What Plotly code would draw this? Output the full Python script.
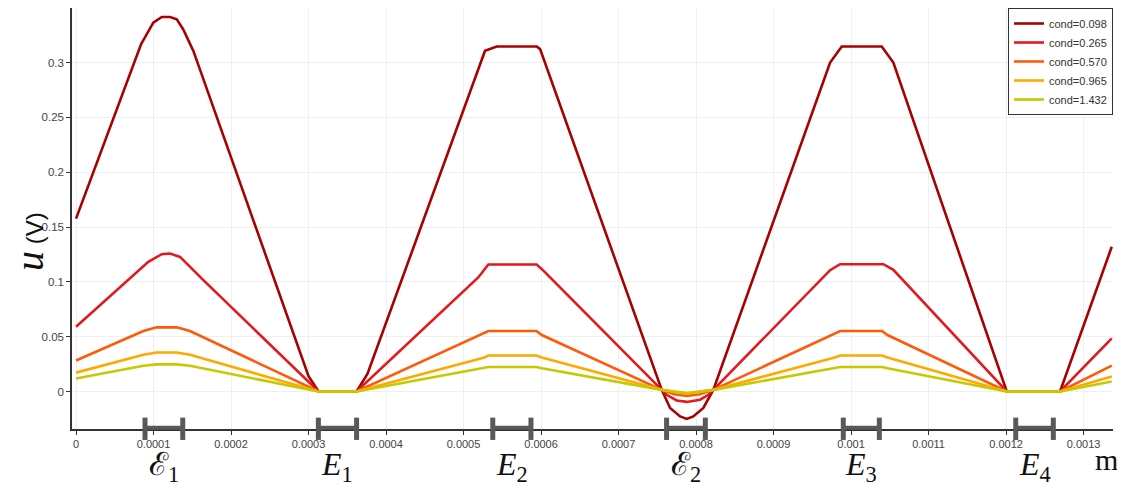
import plotly.graph_objects as go

# ---------------- data ----------------
series_names = ["cond=0.098", "cond=0.265", "cond=0.570", "cond=0.965", "cond=1.432"]
series_colors = ["#A80000", "#E3191E", "#FF5A0A", "#FFA800", "#C8C800"]

x_098 = [0, 0.0000839, 0.0000997, 0.0001106, 0.0001213, 0.00013, 0.0001385, 0.0001514,
         0.0003, 0.000313, 0.000362, 0.000376, 0.0005277, 0.0005428, 0.0005944, 0.0005988,
         0.0007557, 0.0007665, 0.0007794, 0.000788, 0.0007965, 0.0008094, 0.0008223,
         0.000973, 0.000988, 0.0010396, 0.0010546, 0.0012009, 0.0012697, 0.0013364]
u_098 = [0.1576, 0.3167, 0.3364, 0.3415, 0.3415, 0.3394, 0.330, 0.3106,
         0.014, 0.0, 0.0, 0.016, 0.3106, 0.3146, 0.3146, 0.3122,
         0.0015, -0.015, -0.0227, -0.025, -0.0227, -0.015, 0.0015,
         0.300, 0.3146, 0.3146, 0.300, 0.0, 0.0, 0.132]

x_265 = [0, 0.0000933, 0.0001106, 0.0001213, 0.0001342, 0.0001471, 0.0001643, 0.000313,
         0.000362, 0.000519, 0.000526, 0.000532, 0.0005944, 0.000604, 0.0007557, 0.000762, 0.0007751,
         0.000788, 0.0008052, 0.000816, 0.0008223, 0.000973, 0.0009858, 0.0010417, 0.0010546,
         0.0012009, 0.0012697, 0.0013364]
u_265 = [0.0591, 0.1182, 0.1252, 0.1258, 0.1227, 0.1136, 0.1015, 0.0,
         0.0, 0.104, 0.1105, 0.1158, 0.1158, 0.1095, 0.0015, -0.003, -0.0082,
         -0.0095, -0.0075, -0.003, 0.0015, 0.1106, 0.1161, 0.1161, 0.111,
         0.0, 0.0, 0.0485]

x_570 = [0, 0.0000869, 0.000104, 0.00013, 0.000147, 0.000313, 0.000362, 0.0005256,
         0.000532, 0.000594, 0.000601, 0.0007557, 0.000772, 0.000788, 0.000805, 0.0008223,
         0.000979, 0.000986, 0.00104, 0.001047, 0.0012009, 0.0012697, 0.0013364]
u_570 = [0.0283, 0.0552, 0.0585, 0.0585, 0.0552, 0.0, 0.0, 0.0525,
         0.0551, 0.0551, 0.0515, 0.0015, -0.0025, -0.004, -0.0025, 0.0015,
         0.0525, 0.0551, 0.0551, 0.0515, 0.0, 0.0, 0.0236]

x_965 = [0, 0.000087, 0.000104, 0.00013, 0.000147, 0.000313, 0.000362, 0.000527,
         0.000532, 0.000594, 0.000601, 0.0007557, 0.000788, 0.0008223, 0.000979, 0.000986,
         0.00104, 0.001047, 0.0012009, 0.0012697, 0.0013364]
u_965 = [0.0172, 0.0335, 0.0355, 0.0355, 0.0335, 0.0, 0.0, 0.031,
         0.0328, 0.0328, 0.031, 0.0015, -0.002, 0.0015, 0.031, 0.0328,
         0.0328, 0.031, 0.0, 0.0, 0.0136]

x_1432 = [0, 0.000087, 0.000104, 0.00013, 0.000147, 0.000313, 0.000362, 0.000527,
          0.000532, 0.000594, 0.000601, 0.0007557, 0.000788, 0.0008223, 0.000979, 0.000986,
          0.00104, 0.001047, 0.0012009, 0.0012697, 0.0013364]
u_1432 = [0.0119, 0.0234, 0.0247, 0.0247, 0.0234, 0.0, 0.0, 0.0212,
          0.0223, 0.0223, 0.0212, 0.0015, -0.0015, 0.0015, 0.0212, 0.0223,
          0.0223, 0.0212, 0.0, 0.0, 0.0091]

# electrodes (intervals on the x axis)
elec_labels = ["ℰ<sub>1</sub>", "<i>E</i><sub>1</sub>", "<i>E</i><sub>2</sub>",
               "ℰ<sub>2</sub>", "<i>E</i><sub>3</sub>", "<i>E</i><sub>4</sub>"]
elec_start = [0.000089, 0.0003127, 0.0005377, 0.000762, 0.00099, 0.0012125]
elec_end = [0.0001377, 0.000362, 0.000587, 0.000812, 0.0010365, 0.001261]

x_tickvals = [0, 0.0001, 0.0002, 0.0003, 0.0004, 0.0005, 0.0006, 0.0007,
              0.0008, 0.0009, 0.001, 0.0011, 0.0012, 0.0013]
x_ticktext = ["0", "0.0001", "0.0002", "0.0003", "0.0004", "0.0005", "0.0006", "0.0007",
              "0.0008", "0.0009", "0.001", "0.0011", "0.0012", "0.0013"]
y_tickvals = [0, 0.05, 0.1, 0.15, 0.2, 0.25, 0.3]
y_ticktext = ["0", "0.05", "0.1", "0.15", "0.2", "0.25", "0.3"]

xs = [x_098, x_265, x_570, x_965, x_1432]
us = [u_098, u_265, u_570, u_965, u_1432]

# ---------------- figure ----------------
fig = go.Figure()
for name, col, xv, uv in zip(series_names, series_colors, xs, us):
    fig.add_trace(go.Scatter(x=xv, y=uv, mode="lines", name=name,
                             line=dict(color=col, width=2.6)))

shapes = []
bar_col = "#595959"
for a, b in zip(elec_start, elec_end):
    shapes.append(dict(type="line", xref="x", yref="paper", x0=a, x1=b, y0=0.003, y1=0.003,
                       line=dict(color=bar_col, width=4)))
    for xx in (a, b):
        shapes.append(dict(type="line", xref="x", yref="paper", x0=xx, x1=xx, y0=0.027, y1=-0.026,
                           line=dict(color=bar_col, width=5)))

annotations = []
for lab, a, b in zip(elec_labels, elec_start, elec_end):
    annotations.append(dict(text=lab, x=(a + b) / 2, xref="x", y=-0.088, yref="paper",
                            showarrow=False, xanchor="center", yanchor="middle",
                            font=dict(family="Liberation Serif, DejaVu Serif, serif", size=32, color="#111")))
annotations.append(dict(text="m", x=0.9933, xref="paper", y=-0.072, yref="paper", showarrow=False,
                        xanchor="center", yanchor="middle",
                        font=dict(family="Liberation Serif, DejaVu Serif, serif", size=30, color="#111")))
# y-axis title
annotations.append(dict(text="<span style='font-family:Liberation Serif;font-size:40px'><i>u</i></span> (V)",
                        x=-0.041, xref="paper", y=0.445, yref="paper", showarrow=False, textangle=-90,
                        xanchor="center", yanchor="middle",
                        font=dict(family="Liberation Sans, Arial, sans-serif", size=24, color="#111")))

# page body has an 8px default margin, so the figure is 8px smaller than the window
fig.update_layout(
    width=1117, height=481,
    margin=dict(l=64, r=12, t=0, b=60, autoexpand=False),
    paper_bgcolor="white", plot_bgcolor="white",
    shapes=shapes, annotations=annotations,
    showlegend=True,
    legend=dict(x=1, y=1, xanchor="right", yanchor="top", bgcolor="white",
                bordercolor="#333", borderwidth=1,
                font=dict(family="Liberation Sans, Arial, sans-serif", size=11, color="#333"),
                tracegroupgap=0),
    xaxis=dict(range=[-0.0000052, 0.001338], tickmode="array", tickvals=x_tickvals, ticktext=x_ticktext,
               showgrid=True, gridcolor="#EFEFEF", gridwidth=1, zeroline=False, automargin=False,
               showline=True, linecolor="#333", linewidth=1.5,
               ticks="outside", ticklen=4, tickcolor="#333",
               tickfont=dict(family="Liberation Sans, Arial, sans-serif", size=11, color="#444")),
    yaxis=dict(range=[-0.0342, 0.3497], tickmode="array", tickvals=y_tickvals, ticktext=y_ticktext,
               showgrid=True, gridcolor="#EFEFEF", gridwidth=1, zeroline=False, automargin=False,
               showline=True, linecolor="#333", linewidth=1.5,
               ticks="outside", ticklen=4, tickcolor="#333",
               tickfont=dict(family="Liberation Sans, Arial, sans-serif", size=11.5, color="#444")),
)

fig.write_html("out.html")
